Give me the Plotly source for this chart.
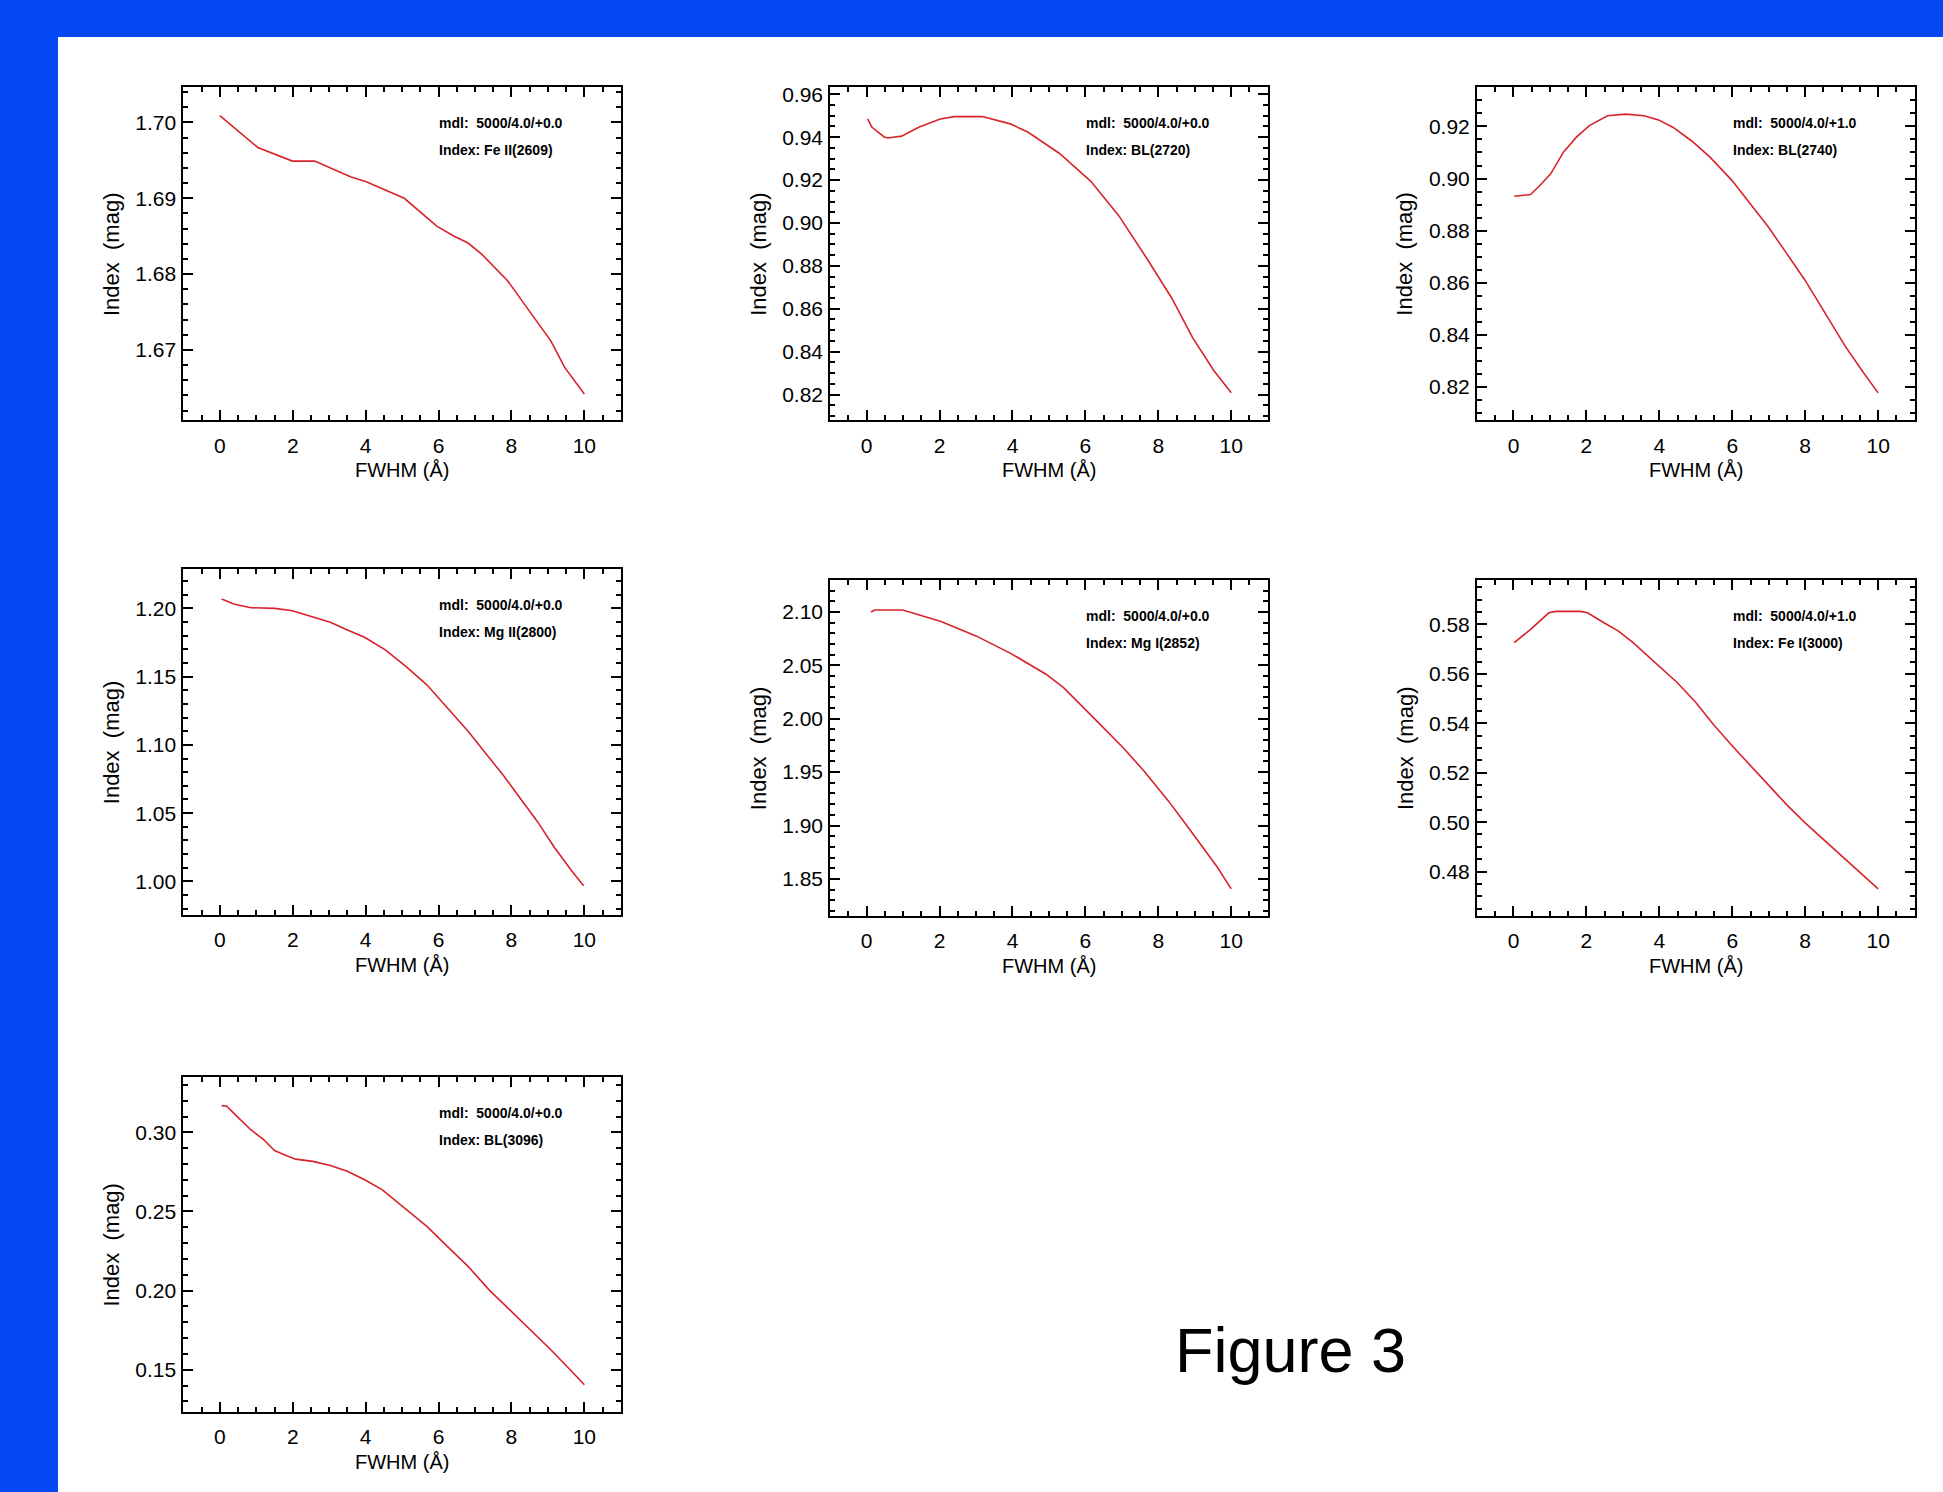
import plotly.graph_objects as go

W, H = 1943, 1492

# ---------------- data ----------------
fwhm_feii2609 = [0.0, 1.04, 1.99, 2.6, 3.6, 4.0, 5.06, 5.96, 6.43, 6.81, 7.19, 7.9, 8.3, 8.7, 9.08, 9.46, 10.0]
index_feii2609 = [1.7009, 1.6967, 1.6949, 1.6949, 1.6928, 1.6922, 1.6900, 1.6863, 1.6850, 1.6841, 1.6826, 1.6791, 1.6764, 1.6738, 1.6712, 1.6677, 1.6642]

fwhm_bl2720 = [0.03, 0.14, 0.48, 0.58, 0.96, 1.44, 2.02, 2.4, 3.17, 3.94, 4.42, 5.29, 6.15, 6.92, 7.69, 8.37, 8.94, 9.52, 10.0]
index_bl2720 = [0.9485, 0.9447, 0.9401, 0.9396, 0.9405, 0.9447, 0.9485, 0.9496, 0.9496, 0.9462, 0.9424, 0.9324, 0.9194, 0.9033, 0.8833, 0.8649, 0.8465, 0.8312, 0.8208]

fwhm_bl2740 = [0.02, 0.17, 0.47, 0.77, 1.02, 1.37, 1.72, 2.08, 2.58, 3.08, 3.58, 3.98, 4.38, 4.88, 5.39, 5.99, 6.49, 6.99, 7.49, 7.99, 8.6, 9.1, 9.6, 10.0]
index_bl2740 = [0.8932, 0.8935, 0.8939, 0.8980, 0.9018, 0.9101, 0.9158, 0.9203, 0.9241, 0.9247, 0.9241, 0.9225, 0.9196, 0.9145, 0.9082, 0.8993, 0.8904, 0.8814, 0.8713, 0.8611, 0.8471, 0.8356, 0.8255, 0.8178]

fwhm_mgii2800 = [0.05, 0.38, 0.85, 1.51, 1.99, 2.55, 3.03, 3.5, 3.97, 4.54, 5.11, 5.68, 6.24, 6.81, 7.28, 7.76, 8.23, 8.7, 9.18, 9.65, 9.98]
index_mgii2800 = [1.2068, 1.2032, 1.2005, 1.2000, 1.1983, 1.1939, 1.1898, 1.1842, 1.1788, 1.1696, 1.1574, 1.1440, 1.1270, 1.1100, 1.0942, 1.0783, 1.0613, 1.0443, 1.0248, 1.0078, 0.9968]

fwhm_mgi2852 = [0.12, 0.22, 0.99, 1.47, 2.04, 3.0, 3.96, 4.92, 5.4, 6.26, 7.03, 7.6, 8.27, 8.75, 9.23, 9.62, 10.0]
index_mgi2852 = [2.1000, 2.1019, 2.1019, 2.0972, 2.0910, 2.0776, 2.0610, 2.0417, 2.0292, 1.9996, 1.9731, 1.9513, 1.9233, 1.9014, 1.8796, 1.8609, 1.8406]

fwhm_fei3000 = [0.02, 0.47, 0.97, 1.17, 1.83, 2.03, 2.48, 2.88, 3.28, 3.88, 4.48, 4.99, 5.49, 5.99, 6.49, 6.99, 7.49, 7.99, 8.49, 8.99, 9.5, 10.0]
index_fei3000 = [0.5726, 0.5780, 0.5847, 0.5853, 0.5853, 0.5847, 0.5807, 0.5773, 0.5726, 0.5646, 0.5566, 0.5486, 0.5394, 0.5310, 0.5230, 0.5148, 0.5071, 0.4998, 0.4931, 0.4864, 0.4797, 0.4730]

fwhm_bl3096 = [0.05, 0.19, 0.47, 0.85, 1.2, 1.5, 1.8, 2.08, 2.55, 3.03, 3.5, 3.97, 4.45, 5.11, 5.68, 6.24, 6.81, 7.38, 7.95, 8.51, 9.08, 9.65, 10.0]
index_bl3096 = [0.3169, 0.3165, 0.3101, 0.3017, 0.2955, 0.2885, 0.2855, 0.2831, 0.2817, 0.2791, 0.2754, 0.2701, 0.2638, 0.2511, 0.2406, 0.2280, 0.2153, 0.2006, 0.1879, 0.1753, 0.1626, 0.1490, 0.1405]

model_labels = ["mdl:  5000/4.0/+0.0", "mdl:  5000/4.0/+0.0", "mdl:  5000/4.0/+1.0",
                "mdl:  5000/4.0/+0.0", "mdl:  5000/4.0/+0.0", "mdl:  5000/4.0/+1.0",
                "mdl:  5000/4.0/+0.0"]
index_labels = ["Index: Fe II(2609)", "Index: BL(2720)", "Index: BL(2740)",
                "Index: Mg II(2800)", "Index: Mg I(2852)", "Index: Fe I(3000)",
                "Index: BL(3096)"]
x_title = "FWHM (Å)"
y_title = "Index  (mag)"
figure_label = "Figure 3"

series = [
    (fwhm_feii2609, index_feii2609),
    (fwhm_bl2720, index_bl2720),
    (fwhm_bl2740, index_bl2740),
    (fwhm_mgii2800, index_mgii2800),
    (fwhm_mgi2852, index_mgi2852),
    (fwhm_fei3000, index_fei3000),
    (fwhm_bl3096, index_bl3096),
]

# ---------------- layout geometry (pixels) ----------------
boxes = [  # left, right, top, bottom
    (183.4, 620.8, 83.0, 417.6),
    (830.2, 1267.7, 83.0, 417.6),
    (1477.0, 1914.6, 83.0, 417.6),
    (183.4, 620.8, 566.3, 913.3),
    (830.2, 1267.7, 577.5, 914.5),
    (1477.0, 1914.6, 577.5, 914.5),
    (183.4, 620.8, 1075.6, 1411.4),
]
y_ranges = [
    (1.6607, 1.7047, 0.01, 0.002),
    (0.8079, 0.9635, 0.02, 0.005),
    (0.8072, 0.9352, 0.02, 0.005),
    (0.9755, 1.229, 0.05, 0.01),
    (1.8152, 2.130, 0.05, 0.01),
    (0.462, 0.598, 0.02, 0.005),
    (0.1235, 0.3352, 0.05, 0.01),
]
x_range = [-1.0, 11.0]

FONT = "Liberation Sans, Arial, Helvetica, sans-serif"
LINE_COLOR = "#d8232a"

fig = go.Figure()
layout = dict(
    width=W, height=H,
    margin=dict(l=0, r=0, t=0, b=0),
    paper_bgcolor="#0448f5",
    plot_bgcolor="white",
    showlegend=False,
    font=dict(family=FONT, color="black"),
    annotations=[],
    shapes=[dict(type="rect", xref="paper", yref="paper",
                 x0=58 / W, x1=1, y0=0, y1=1 - 33 / H,
                 fillcolor="white", line=dict(width=0), layer="below")],
)

for i, ((xs, ys), (l, r, t, b)) in enumerate(zip(series, boxes)):
    n = i + 1
    xa = "x" if n == 1 else f"x{n}"
    ya = "y" if n == 1 else f"y{n}"
    fig.add_trace(go.Scatter(x=xs, y=ys, mode="lines", xaxis=xa, yaxis=ya,
                             line=dict(color=LINE_COLOR, width=1.6),
                             hoverinfo="skip"))
    ylo, yhi, dt, mdt = y_ranges[i]
    common = dict(showline=True, linecolor="black", linewidth=2, mirror="allticks",
                  ticks="inside", ticklen=10, tickwidth=2, tickcolor="black",
                  showgrid=False, zeroline=False,
                  tickfont=dict(size=21, family=FONT, color="black"))
    layout[f"xaxis{'' if n == 1 else n}"] = dict(
        domain=[l / W, r / W], anchor=ya, range=x_range,
        tick0=0, dtick=2, ticklabelstandoff=5,
        minor=dict(ticks="inside", ticklen=5, tickwidth=1.5, tickcolor="black", dtick=0.5, tick0=0),
        **common)
    layout[f"yaxis{'' if n == 1 else n}"] = dict(
        domain=[1 - b / H, 1 - t / H], anchor=xa, range=[ylo, yhi],
        tick0=0, dtick=dt, tickformat=".2f", ticklabelstandoff=1,
        minor=dict(ticks="inside", ticklen=5, tickwidth=1.5, tickcolor="black", dtick=mdt, tick0=0),
        **common)
    xd = f"{xa} domain"
    yd = f"{ya} domain"
    anns = layout["annotations"]
    anns.append(dict(text="<b>" + model_labels[i] + "</b>", xref=xd, yref=yd, x=0, y=1,
                     xshift=254, yshift=-36, xanchor="left", yanchor="middle",
                     showarrow=False, font=dict(size=14, family=FONT, color="black")))
    anns.append(dict(text="<b>" + index_labels[i] + "</b>", xref=xd, yref=yd, x=0, y=1,
                     xshift=254, yshift=-63, xanchor="left", yanchor="middle",
                     showarrow=False, font=dict(size=14, family=FONT, color="black")))
    anns.append(dict(text=x_title, xref=xd, yref=yd, x=0.5, y=0,
                     yshift=-50, xanchor="center", yanchor="middle",
                     showarrow=False, font=dict(size=20, family=FONT, color="black")))
    anns.append(dict(text=y_title, xref=xd, yref=yd, x=0, y=0.5, textangle=-90,
                     xshift=-72, xanchor="center", yanchor="middle",
                     showarrow=False, font=dict(size=22, family=FONT, color="black")))

layout["annotations"].append(dict(text=figure_label, xref="paper", yref="paper",
                                  x=1173 / W, y=1 - 1350 / H, xanchor="left", yanchor="middle",
                                  showarrow=False,
                                  font=dict(size=63, family=FONT, color="black")))

fig.update_layout(**layout)
fig.write_html(
    "out.html",
    config={"displayModeBar": False},
    post_script=(
        "document.body.style.margin='0';document.body.style.padding='0';"
        "document.body.style.overflow='hidden';"
        "var gd=document.getElementById('{plot_id}');"
        "gd.style.position='absolute';gd.style.top='0px';gd.style.left='0px';"
    ),
)
